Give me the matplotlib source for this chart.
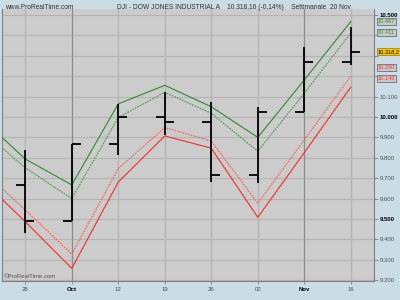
import matplotlib
matplotlib.use("Agg")
import matplotlib.pyplot as plt

plt.rcParams["font.family"] = ["Liberation Sans", "DejaVu Sans"]

# ---- data ----
week_labels = ["28", "Oct", "12", "19", "26", "02", "Nov", "16"]
opens  = [9665, 9489, 9866, 9999, 9974, 9716, 10023, 10268]
highs  = [9838, 9866, 10064, 10121, 10075, 10048, 10345, 10443]
lows   = [9430, 9489, 9814, 9912, 9683, 9678, 10023, 10255]
closes = [9489, 9866, 9999, 9974, 9714, 10023, 10271, 10318.2]

# envelope lines (first value is the week before the visible range)
env_x = [-1, 0, 1, 2, 3, 4, 5, 6, 7]
green_solid  = [10005, 9794, 9667, 10064, 10155, 10050, 9900, 10181, 10467]
green_dotted = [9946, 9751, 9600, 9997, 10121, 10018, 9832, 10116, 10411]
red_dotted   = [9755, 9544, 9328, 9747, 9948, 9882, 9577, 9887, 10200]
red_solid    = [9706, 9487, 9258, 9681, 9907, 9847, 9508, 9825, 10146]

yticks = list(range(9200, 10501, 100))
hidden_yticks = [10200, 10300, 10400]   # covered by the value boxes

def fmt(v):
    return "" if v in hidden_yticks else f"{v:,}".replace(",", ".")

fig = plt.figure(figsize=(4, 3), dpi=100, facecolor="#CADCE6")
ax = fig.add_axes([0.005, 0.0633, 0.93, 0.9067])
ax.set_facecolor("#CCCCCC")
ax.set_xlim(-0.5, 7.5)
ax.set_ylim(9196, 10529)

# grid
for yv in yticks:
    ax.axhline(yv, color="#B4B4B4", lw=0.8, zorder=1)
for i, lab in enumerate(week_labels):
    c = "#8C8C8C" if lab in ("Oct", "Nov") else "#B4B4B4"
    ax.axvline(i, color=c, lw=0.9, zorder=1)

# envelope lines
ax.plot(env_x, green_solid, color="#2E8B2E", lw=0.8, zorder=3)
ax.plot(env_x, green_dotted, color="#3C9E3C", lw=0.8, ls=(0, (1.5, 1)), zorder=3)
ax.plot(env_x, red_dotted, color="#FF5A4A", lw=0.8, ls=(0, (1.5, 1)), zorder=3)
ax.plot(env_x, red_solid, color="#FF2A20", lw=0.8, zorder=3)

# OHLC bars
tw = 0.19
for i in range(len(opens)):
    ax.vlines(i, lows[i], highs[i], color="black", lw=1.3, zorder=4)
    ax.hlines(opens[i], i - tw, i, color="black", lw=1.3, zorder=4)
    ax.hlines(closes[i], i, i + tw, color="black", lw=1.3, zorder=4)

# axes styling
ax.spines["top"].set_visible(False)
for s in ["right", "bottom", "left"]:
    ax.spines[s].set_color("#808080")

ax.yaxis.tick_right()
ax.set_yticks(yticks)
ax.set_yticklabels([fmt(v) for v in yticks], fontsize=4.3)
for lbl, v in zip(ax.get_yticklabels(), yticks):
    if v in (9500, 10000, 10500):
        lbl.set_color("black")
        lbl.set_fontweight("bold")
    else:
        lbl.set_color("#505050")
ax.tick_params(axis="y", length=3, width=0.6, color="#808080", pad=1)

ax.set_xticks(range(len(week_labels)))
ax.set_xticklabels(week_labels, fontsize=4.3)
for lbl in ax.get_xticklabels():
    if lbl.get_text() in ("Oct", "Nov"):
        lbl.set_color("black")
        lbl.set_fontweight("bold")
    else:
        lbl.set_color("#505050")
ax.tick_params(axis="x", length=2, width=0.6, color="#808080", pad=2)

# right value boxes
boxes = [
    (10469, "10.467", "#2E8B2E", "#C8C8C8", "#707070"),
    (10415, "10.411", "#3C9E3C", "#C8C8C8", "#707070"),
    (10320, "10.318,2", "black", "#F5C400", "#B08800"),
    (10244, "10.200", "#FF3A30", "#C8C8C8", "#707070"),
    (10188, "10.146", "#FF3A30", "#C8C8C8", "#707070"),
]
for yv, txt, tc, bg, ec in boxes:
    ax.text(1.01, yv, txt, transform=ax.get_yaxis_transform(), fontsize=4.1,
            color=tc, va="center", ha="left", zorder=10, clip_on=False,
            bbox=dict(boxstyle="square,pad=0.2", fc=bg, ec=ec, lw=0.6))

# titles
fig.text(0.012, 0.988, "www.ProRealTime.com", fontsize=4.8, color="#303030",
         ha="left", va="top")
fig.text(0.585, 0.988, "DJI - DOW JONES INDUSTRIAL A    10.318,16 (-0,14%)    Settimanale  20 Nov",
         fontsize=4.8, color="#303030", ha="center", va="top")
ax.text(0.005, 0.008, "\u00a9ProRealTime.com", transform=ax.transAxes, fontsize=4.3,
        color="#505050", ha="left", va="bottom", zorder=5)

fig.savefig("out.png", dpi=100, facecolor=fig.get_facecolor())
